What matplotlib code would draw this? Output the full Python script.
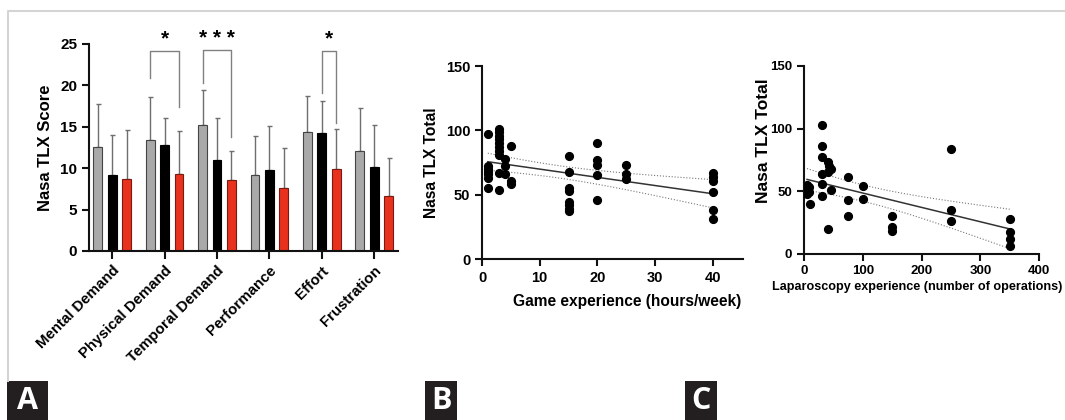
import numpy as np
import matplotlib
matplotlib.use("Agg")
import matplotlib.pyplot as plt
from matplotlib.patches import Rectangle
from matplotlib.lines import Line2D

plt.rcParams["font.family"] = ["Liberation Sans", "DejaVu Sans"]
plt.rcParams["font.weight"] = "bold"

# ---- panel A data ----
categories = ["Mental Demand", "Physical Demand", "Temporal Demand",
              "Performance", "Effort", "Frustration"]
gray_mean = [12.56, 13.45, 15.2, 9.22, 14.33, 12.08]
gray_sd = [5.19, 5.15, 4.2, 4.68, 4.37, 5.19]
black_mean = [9.22, 12.8, 11.0, 9.82, 14.25, 10.14]
black_sd = [4.75, 3.26, 5.0, 5.28, 3.9, 5.12]
red_mean = [8.7, 9.34, 8.53, 7.57, 9.9, 6.6]
red_sd = [5.9, 5.16, 3.57, 4.83, 4.87, 4.63]

# significance brackets: (category, left group, right group, top, left leg, right leg, label)
brackets = [
    (1, 0, 2, 24.1, 20.9, 17.4, "*"),
    (2, 0, 2, 24.3, 20.3, 13.8, "* * *"),
    (4, 1, 2, 24.1, 19.1, 15.5, "*"),
]

# ---- panel B data: game experience (hours/week) vs NASA TLX total ----
game_hours = [1, 1, 1, 1, 1, 1, 1,
              3, 3, 3, 3, 3, 3, 3, 3, 3, 3,
              4, 4, 4,
              5, 5, 5,
              15, 15, 15, 15, 15, 15, 15, 15,
              20, 20, 20, 20, 20,
              25, 25, 25,
              40, 40, 40, 40, 40, 40]
game_tlx = [97, 72, 70, 68, 66, 63, 55,
            101, 99, 96, 93, 90, 87, 84, 81, 67, 54,
            78, 72, 66,
            88, 61, 58,
            80, 68, 55, 53, 44, 42, 39, 37,
            90, 77, 73, 65, 46,
            73, 66, 62,
            67, 64, 61, 52, 38, 31]

# ---- panel C data: laparoscopy experience vs NASA TLX total ----
lap_ops = [5, 5, 5, 5, 8, 8, 10,
           30, 30, 30, 30, 30, 30,
           40, 40, 40, 42, 45, 45,
           75, 75, 75,
           100, 100,
           150, 150, 150,
           250, 250, 250,
           350, 350, 350, 350]
lap_tlx = [55, 52, 50, 48, 53, 49, 40,
           103, 86, 77, 64, 56, 46,
           73, 65, 20, 70, 68, 51,
           61, 43, 30,
           54, 44,
           30, 21, 18,
           84, 35, 26,
           28, 17, 12, 6]

T_95 = 2.02  # approx two-sided t value for ~40 dof

fig = plt.figure(figsize=(10.65, 4.2), dpi=100)


def style_axis(ax, size):
    for side in ("top", "right"):
        ax.spines[side].set_visible(False)
    for side in ("left", "bottom"):
        ax.spines[side].set_linewidth(1.5)
        ax.spines[side].set_color("#111111")
    ax.tick_params(width=1.5, length=5, labelsize=size, color="#111111")
    for lab in ax.get_xticklabels() + ax.get_yticklabels():
        lab.set_fontweight("bold")


def fit_with_band(ax, x, y, x_end):
    x = np.asarray(x, float)
    y = np.asarray(y, float)
    slope, icpt = np.polyfit(x, y, 1)
    n = len(x)
    resid = y - (icpt + slope * x)
    s = np.sqrt(np.sum(resid ** 2) / (n - 2))
    xs = np.linspace(x.min(), x_end, 100)
    se = s * np.sqrt(1.0 / n + (xs - x.mean()) ** 2 / np.sum((x - x.mean()) ** 2))
    fit = icpt + slope * xs
    ax.plot(xs, fit, color="#333333", lw=1.1, zorder=2)
    ax.plot(xs, fit + T_95 * se, color="#777777", lw=0.8, ls=":", zorder=2)
    ax.plot(xs, fit - T_95 * se, color="#777777", lw=0.8, ls=":", zorder=2)


# ---------------- panel A ----------------
axA = fig.add_axes([0.0836, 0.4024, 0.290, 0.493])
xpos = np.arange(len(categories))
off = 0.275
w = 0.17
groups = [(gray_mean, gray_sd, "#a9a9a9", "#444444"),
          (black_mean, black_sd, "#000000", "#000000"),
          (red_mean, red_sd, "#e8321e", "#7a1a10")]
for i, (m, sd, col, ec) in enumerate(groups):
    axA.bar(xpos + (i - 1) * off, m, width=w, color=col, edgecolor=ec,
            linewidth=0.8, zorder=2)
    axA.errorbar(xpos + (i - 1) * off, m, yerr=[np.zeros(len(m)), sd],
                 fmt="none", ecolor="#6e6e6e", elinewidth=1.0, capsize=1.8,
                 capthick=1.0, zorder=1)

for cat, g1, g2, top, l1, l2, lab in brackets:
    x1 = cat + (g1 - 1) * off
    x2 = cat + (g2 - 1) * off
    axA.plot([x1, x1, x2, x2], [l1, top, top, l2], color="#808080", lw=1.0,
             clip_on=False, zorder=3)
    axA.text((x1 + x2) / 2 if g1 == 1 else cat, 25.6, lab,
             ha="center", va="center", fontsize=15, fontweight="bold",
             clip_on=False)

axA.set_xlim(-0.44, 5.45)
axA.set_ylim(0, 25)
axA.set_yticks([0, 5, 10, 15, 20, 25])
axA.set_xticks(xpos)
axA.set_xticklabels(categories, rotation=45, ha="right",
                    rotation_mode="anchor", fontsize=10.8)
axA.set_ylabel("Nasa TLX Score", fontsize=12, fontweight="bold", labelpad=5)
style_axis(axA, 11)
axA.tick_params(axis="x", length=6, labelsize=10.8, pad=3)

# ---------------- panel B ----------------
axB = fig.add_axes([0.4526, 0.3833, 0.245, 0.4595])
axB.plot(game_hours, game_tlx, "o", color="black", ms=5.6, zorder=3)
fit_with_band(axB, game_hours, game_tlx, 40)
axB.set_xlim(0, 45.2)
axB.set_ylim(0, 150)
axB.set_xticks([0, 10, 20, 30, 40])
axB.set_yticks([0, 50, 100, 150])
axB.set_ylabel("Nasa TLX Total", fontsize=11.2, fontweight="bold", labelpad=5)
axB.set_xlabel("Game experience (hours/week)", fontsize=11.2,
               fontweight="bold")
axB.xaxis.set_label_coords(0.555, -0.18)
style_axis(axB, 10.5)

# ---------------- panel C ----------------
axC = fig.add_axes([0.755, 0.396, 0.2207, 0.447])
axC.plot(lap_ops, lap_tlx, "o", color="black", ms=5.6, zorder=3)
fit_with_band(axC, lap_ops, lap_tlx, 350)
axC.set_xlim(0, 400)
axC.set_ylim(0, 150)
axC.set_xticks([0, 100, 200, 300, 400])
axC.set_yticks([0, 50, 100, 150])
axC.set_ylabel("Nasa TLX Total", fontsize=12.5, fontweight="bold")
axC.yaxis.set_label_coords((771 - 804) / 235, 0.6)
style_axis(axC, 9.5)
fig.text(772 / 1065, 1 - 287 / 420, "Laparoscopy experience (number of operations)",
         ha="left", va="center", fontsize=9.1, fontweight="bold")

# ---------------- frame and panel letters ----------------
fig.add_artist(Line2D([8 / 1065, 8 / 1065, 1.0], [1 - 381 / 420, 1 - 10.5 / 420, 1 - 10.5 / 420],
                      color="#d4d4d4", lw=1.5))
for letter, x0, x1 in [("A", 7, 48), ("B", 425, 457), ("C", 685, 717)]:
    fig.add_artist(Rectangle((x0 / 1065, 0), (x1 - x0) / 1065, 39 / 420,
                             transform=fig.transFigure, color="#231f20", lw=0))
    fig.text((x0 + x1) / 2 / 1065, 19 / 420, letter, color="white",
             ha="center", va="center", fontsize=22, family="Open Sans")

fig.savefig("out.png", dpi=100)
